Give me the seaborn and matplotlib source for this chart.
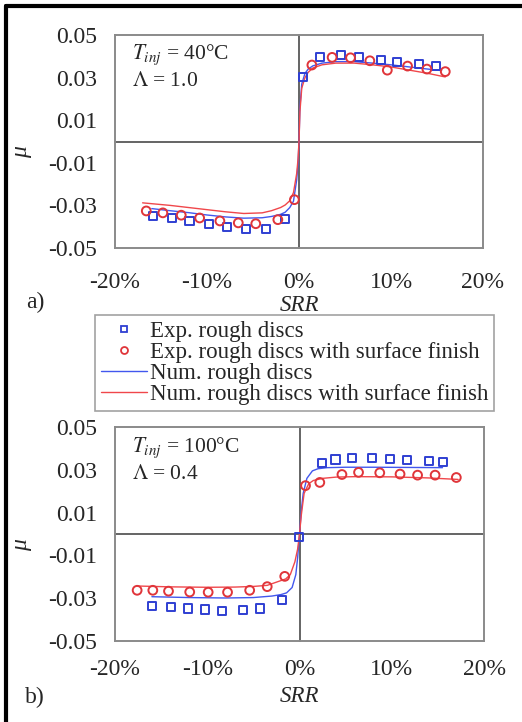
import numpy as np
import pandas as pd
import matplotlib
matplotlib.use("Agg")
import matplotlib.pyplot as plt
from matplotlib.lines import Line2D
import seaborn as sns

# ---- data (SRR in %, mu) ----
# panel a) T_inj = 40 C, Lambda = 1.0
a_exp_rough_x = [-15.9, -13.8, -11.9, -9.8, -7.8, -5.8, -3.6, -1.5,
                 0.4, 2.3, 4.6, 6.5, 8.9, 10.7, 13.0, 14.9]
a_exp_rough_y = [-0.0351, -0.0360, -0.0375, -0.0389, -0.0400, -0.0409, -0.0410, -0.0365,
                 0.0301, 0.0398, 0.0406, 0.0398, 0.0382, 0.0375, 0.0362, 0.0354]
a_exp_finish_x = [-16.6, -14.8, -12.8, -10.8, -8.6, -6.6, -4.7, -2.3, -0.5,
                  1.4, 3.6, 5.6, 7.7, 9.6, 11.8, 13.9, 15.9]
a_exp_finish_y = [-0.0326, -0.0335, -0.0346, -0.0359, -0.0373, -0.0382, -0.0386, -0.0367, -0.0273,
                  0.0359, 0.0395, 0.0393, 0.0379, 0.0335, 0.0354, 0.0340, 0.0328]
a_num_rough_x = [-16, -14, -12, -10, -8, -6, -4, -3, -2, -1.5, -1, -0.6, -0.25, -0.1, 0,
                 0.1, 0.3, 0.65, 1.0, 1.5, 2.5, 4, 6, 8, 10, 12, 14, 15.5]
a_num_rough_y = [-0.0315, -0.0325, -0.0334, -0.0345, -0.0354, -0.0360, -0.0358, -0.0352,
                 -0.0342, -0.0332, -0.0310, -0.0280, -0.0180, -0.0100, 0.0,
                 0.0160, 0.0270, 0.0320, 0.0340, 0.0355, 0.0368, 0.0375, 0.0375,
                 0.0368, 0.0360, 0.0350, 0.0340, 0.0333]
a_num_finish_x = [-17, -14, -12, -10, -8, -6, -4, -3, -2, -1.5, -1, -0.6, -0.25, -0.1, 0,
                  0.1, 0.3, 0.65, 1.0, 1.5, 2.5, 4, 6, 8, 10, 12, 14, 15.9]
a_num_finish_y = [-0.0288, -0.0300, -0.0310, -0.0320, -0.0330, -0.0338, -0.0335, -0.0325,
                  -0.0310, -0.0298, -0.0278, -0.0240, -0.0150, -0.0080, 0.0,
                  0.0140, 0.0250, 0.0300, 0.0325, 0.0345, 0.0360, 0.0368, 0.0368,
                  0.0360, 0.0350, 0.0335, 0.0320, 0.0303]

# panel b) T_inj = 100 C, Lambda = 0.4
b_exp_rough_x = [-16.0, -13.9, -12.1, -10.2, -8.4, -6.1, -4.3, -1.9, -0.1,
                 2.4, 3.9, 5.7, 7.9, 9.8, 11.7, 14.0, 15.6]
b_exp_rough_y = [-0.0336, -0.0342, -0.0348, -0.0353, -0.0358, -0.0355, -0.0348, -0.0308, -0.0012,
                 0.0333, 0.0348, 0.0355, 0.0355, 0.0350, 0.0347, 0.0342, 0.0337]
b_exp_finish_x = [-17.6, -15.9, -14.2, -11.9, -9.9, -7.8, -5.4, -3.5, -1.6,
                  0.65, 2.2, 4.6, 6.4, 8.7, 10.9, 12.8, 14.7, 17.0]
b_exp_finish_y = [-0.0263, -0.0263, -0.0267, -0.0271, -0.0272, -0.0272, -0.0263, -0.0246, -0.0198,
                  0.0226, 0.0241, 0.0278, 0.0288, 0.0286, 0.0280, 0.0275, 0.0275, 0.0264]
b_num_rough_x = [-16, -12, -8, -5, -3, -2, -1.4, -0.8, -0.4, -0.2, 0,
                 0.2, 0.4, 0.8, 1.4, 2, 3, 5, 8, 12, 15.5]
b_num_rough_y = [-0.0293, -0.0297, -0.0299, -0.0297, -0.0290, -0.0283, -0.0275, -0.0250,
                 -0.0190, -0.0110, 0.0, 0.0110, 0.0190, 0.0260, 0.0295, 0.0305,
                 0.0310, 0.0312, 0.0312, 0.0311, 0.0310]
b_num_finish_x = [-17.6, -14, -10, -7, -5, -3.5, -2.5, -1.5, -1.0, -0.5, -0.2, 0,
                  0.2, 0.5, 1, 1.5, 2.5, 4, 6, 10, 14, 17.2]
b_num_finish_y = [-0.0243, -0.0247, -0.0249, -0.0248, -0.0245, -0.0240, -0.0225, -0.0210,
                  -0.0190, -0.0130, -0.0070, 0.0, 0.0090, 0.0190, 0.0235, 0.0250,
                  0.0260, 0.0266, 0.0268, 0.0267, 0.0262, 0.0255]

x_ticks = [-20, -10, 0, 10, 20]
x_tick_labels = ["-20%", "-10%", "0%", "10%", "20%"]
y_ticks = [0.05, 0.03, 0.01, -0.01, -0.03, -0.05]
y_tick_labels = ["0.05", "0.03", "0.01", "-0.01", "-0.03", "-0.05"]
inner_x_ticks = [-10, 10]
inner_y_ticks = [-0.03, -0.01, 0.01, 0.03]

labels = ["Exp. rough discs", "Exp. rough discs with surface finish",
          "Num. rough discs", "Num. rough discs with surface finish"]

blue_mk = "#2f3fd2"
red_mk = "#e0353a"
blue_ln = "#4257ee"
red_ln = "#f0474b"

sns.set_style("white")
plt.rcParams["font.family"] = ["Liberation Serif", "DejaVu Serif"]
plt.rcParams["mathtext.fontset"] = "stix"
plt.rcParams["axes.unicode_minus"] = False

fig = plt.figure(figsize=(5.22, 7.22), dpi=100)

panels = [
    dict(pos=[115 / 522, 1 - 248 / 722, 368 / 522, 213 / 722],
         exp_r=(a_exp_rough_x, a_exp_rough_y), exp_f=(a_exp_finish_x, a_exp_finish_y),
         num_r=(a_num_rough_x, a_num_rough_y), num_f=(a_num_finish_x, a_num_finish_y),
         temp="40°C", lam="1.0", tag="a)", xpad=17, xlab_y=-0.222, tag_y=1 - 302 / 722),
    dict(pos=[115 / 522, 1 - 641 / 722, 369 / 522, 214 / 722],
         exp_r=(b_exp_rough_x, b_exp_rough_y), exp_f=(b_exp_finish_x, b_exp_finish_y),
         num_r=(b_num_rough_x, b_num_rough_y), num_f=(b_num_finish_x, b_num_finish_y),
         temp="100°C", lam="0.4", tag="b)", xpad=13, xlab_y=-0.21, tag_y=1 - 697 / 722),
]

handles = None
for p in panels:
    ax = fig.add_axes(p["pos"])
    lr = pd.DataFrame({"x": p["num_r"][0], "y": p["num_r"][1]})
    lf = pd.DataFrame({"x": p["num_f"][0], "y": p["num_f"][1]})
    er = pd.DataFrame({"x": p["exp_r"][0], "y": p["exp_r"][1]})
    ef = pd.DataFrame({"x": p["exp_f"][0], "y": p["exp_f"][1]})

    sns.lineplot(data=lr, x="x", y="y", ax=ax, color=blue_ln, lw=1.0,
                 estimator=None, sort=False, zorder=3)
    sns.lineplot(data=lf, x="x", y="y", ax=ax, color=red_ln, lw=1.0,
                 estimator=None, sort=False, zorder=3)
    sns.scatterplot(data=er, x="x", y="y", ax=ax, marker="s", s=34,
                    facecolor="none", edgecolor=blue_mk, linewidth=1.4, zorder=4)
    sns.scatterplot(data=ef, x="x", y="y", ax=ax, marker="o", s=40,
                    facecolor="none", edgecolor=red_mk, linewidth=1.4, zorder=4)

    ax.set_xlim(-20, 20)
    ax.set_ylim(-0.05, 0.05)
    ax.set_xticks(x_ticks)
    ax.set_xticklabels(x_tick_labels)
    ax.set_yticks(y_ticks)
    ax.set_yticklabels(y_tick_labels)
    ax.tick_params(axis="both", length=0, labelsize=17)
    ax.tick_params(axis="y", pad=13)
    ax.tick_params(axis="x", pad=p["xpad"])
    for sp in ax.spines.values():
        sp.set_visible(True)
        sp.set_color("#8a8a8a")
        sp.set_linewidth(1.4)
    ax.set_xlabel("SRR", fontsize=16.5, style="italic")
    ax.xaxis.set_label_coords(0.5, p["xlab_y"])
    ax.set_ylabel("μ", fontsize=17, style="italic")
    ax.yaxis.set_label_coords(-0.225, 0.45)

    ax.text(0.045, 0.905, r"$T_{inj}$ = " + p["temp"], transform=ax.transAxes,
            fontsize=15.5, va="center", ha="left")
    ax.text(0.045, 0.78, r"$\mathit{\Lambda}$ = " + p["lam"], transform=ax.transAxes,
            fontsize=15.5, va="center", ha="left")
    fig.text(35 / 522, p["tag_y"], p["tag"], fontsize=17, ha="center", va="center")

    # central axes through the origin, with their own small tick marks
    ov = fig.add_axes(p["pos"])
    ov.patch.set_visible(False)
    ov.set_xlim(-20, 20)
    ov.set_ylim(-0.05, 0.05)
    ov.spines["top"].set_visible(False)
    ov.spines["right"].set_visible(False)
    ov.spines["left"].set_position(("data", 0))
    ov.spines["bottom"].set_position(("data", 0))
    for s in ("left", "bottom"):
        ov.spines[s].set_color("#4a4a4a")
        ov.spines[s].set_linewidth(1.2)
    ov.set_xticks(inner_x_ticks)
    ov.set_yticks(inner_y_ticks)
    ov.tick_params(direction="inout", length=8, width=1.1, color="#4a4a4a",
                   labelleft=False, labelbottom=False)
    ov.set_zorder(ax.get_zorder() - 0.5)
    ax.patch.set_visible(False)

    if handles is None:
        handles = [
            Line2D([], [], ls="none", marker="s", ms=5, mfc="none", mec=blue_mk, mew=1.3),
            Line2D([], [], ls="none", marker="o", ms=5, mfc="none", mec=red_mk, mew=1.3),
            Line2D([], [], color=blue_ln, lw=1.0),
            Line2D([], [], color=red_ln, lw=1.0),
        ]

leg = fig.legend(handles, labels, loc="upper left", bbox_to_anchor=(95 / 522, 1 - 315 / 722),
                 fontsize=16.5, frameon=True, fancybox=False, borderpad=0.25,
                 labelspacing=0.0, handlelength=2.0, handletextpad=0.15,
                 borderaxespad=0)
leg.get_frame().set_edgecolor("#8a8a8a")
leg.get_frame().set_linewidth(1.2)

# outer border of the figure (left and top edges visible)
fig.add_artist(Line2D([6 / 522, 6 / 522], [0, 1 - 6 / 722], color="black", lw=3,
                      transform=fig.transFigure))
fig.add_artist(Line2D([6 / 522, 1], [1 - 6 / 722, 1 - 6 / 722], color="black", lw=3,
                      transform=fig.transFigure))

fig.savefig("out.png", dpi=100)
